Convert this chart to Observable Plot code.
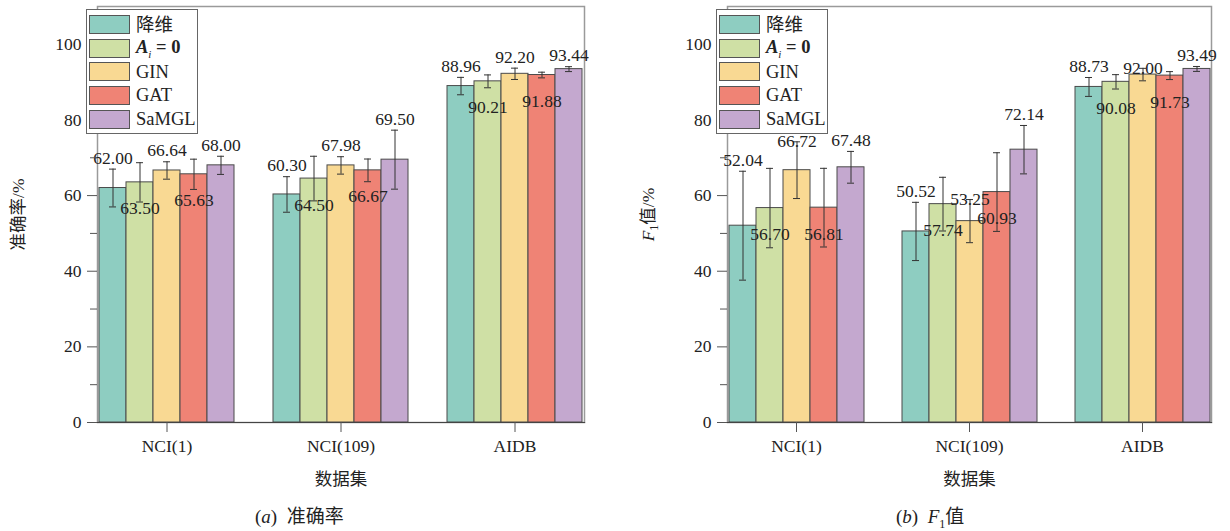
<!DOCTYPE html>
<html><head><meta charset="utf-8">
<script src="https://cdn.jsdelivr.net/npm/d3@7"></script>
<script src="https://cdn.jsdelivr.net/npm/@observablehq/plot@0.6"></script>
<style>
body{margin:0;background:#fff;font-family:"Liberation Serif","Noto Sans CJK SC",serif;color:#222;}
#wrap{display:flex;width:1230px;height:531px;overflow:hidden;}
.panel{position:relative;width:615px;}
.legend{position:absolute;top:9px;width:112px;border:1px solid #666;background:#fff;padding:3px 0 2px 2px;box-sizing:border-box;}
.row{display:flex;align-items:center;height:23.6px;}
.sw{width:41px;height:19px;border:1px solid #555;box-sizing:border-box;margin-right:6px;}
.lt{font-size:18.5px;line-height:1;}
.cap{position:absolute;top:503px;font-size:19px;line-height:28px;white-space:nowrap;}
svg text{font-family:"Liberation Serif","Noto Sans CJK SC",serif;}
</style></head>
<body>
<div id="wrap"><div class="panel" id="pa"></div><div class="panel" id="pb"></div></div>
<script>
const categories = ["NCI(1)", "NCI(109)", "AIDB"];
const series = ["降维", "A_i = 0", "GIN", "GAT", "SaMGL"];
const colors = ["#8ECDC1", "#CFE0A5", "#F9D993", "#EF8375", "#C4A8CF"];
const yTicks = [0, 20, 40, 60, 80, 100];
const yMinorTicks = [10, 30, 50, 70, 90];

// 准确率 (accuracy) values and error bars, rows = categories, cols = series
const accValues = [
  [62.00, 63.50, 66.64, 65.63, 68.00],
  [60.30, 64.50, 67.98, 66.67, 69.50],
  [88.96, 90.21, 92.20, 91.88, 93.44]
];
const accErrors = [
  [5.0, 5.2, 2.3, 4.0, 2.4],
  [4.7, 5.9, 2.3, 3.0, 7.8],
  [2.3, 1.7, 1.5, 0.75, 0.65]
];
// F1 values and error bars
const f1Values = [
  [52.04, 56.70, 66.72, 56.81, 67.48],
  [50.52, 57.74, 53.25, 60.93, 72.14],
  [88.73, 90.08, 92.00, 91.73, 93.49]
];
const f1Errors = [
  [14.4, 10.5, 7.5, 10.4, 4.2],
  [7.7, 7.1, 5.7, 10.4, 6.4],
  [2.5, 1.9, 1.65, 1.05, 0.65]
];

function rowsOf(values, errors) {
  const out = [];
  categories.forEach((c, ci) => series.forEach((s, si) => {
    out.push({cat: c, s, si, v: values[ci][si], e: errors[ci][si]});
  }));
  return out;
}

function legendLabel(name) {
  if (name.includes("_")) return '<b><i>A</i><sub style="font-size:11px;font-weight:normal;font-style:italic">i</sub> = 0</b>';
  return name;
}

// onCap: series whose value label sits centred on the error-bar cap
function panel(el, values, errors, yLabel, marginLeft, marginRight, caption, capLeft, onCap) {
  const rows = rowsOf(values, errors);
  const fmt = d3.format(".2f");
  const above = rows.filter(d => d.si % 2 === 0 && !onCap.includes(d.s));
  const cap = rows.filter(d => d.si % 2 === 0 && onCap.includes(d.s));
  const inside = rows.filter(d => d.si % 2 === 1);
  const chart = Plot.plot({
    width: 615, height: 500,
    marginTop: 6, marginBottom: 78, marginLeft, marginRight,
    style: {fontSize: "17.5px", fontFamily: '"Liberation Serif","Noto Sans CJK SC",serif', color: "#222", background: "#fff"},
    fx: {domain: categories, paddingInner: 0.2, paddingOuter: 0.1, axis: null},
    x: {domain: series, padding: 0, axis: null},
    y: {domain: [0, 110], axis: null},
    color: {domain: series, range: colors},
    marks: [
      Plot.frame({facet: "super", stroke: "#9a9a9a", strokeWidth: 1.5}),
      Plot.barY(rows, {fx: "cat", x: "s", y: "v", fill: "s", stroke: "#4a4a4a", strokeWidth: 1}),
      Plot.ruleX(rows, {fx: "cat", x: "s", y1: d => d.v - d.e, y2: d => d.v + d.e, stroke: "#333", strokeWidth: 1}),
      Plot.tickY(rows, {fx: "cat", x: "s", y: d => d.v + d.e, insetLeft: 10, insetRight: 10, stroke: "#333", strokeWidth: 1}),
      Plot.tickY(rows, {fx: "cat", x: "s", y: d => d.v - d.e, insetLeft: 10, insetRight: 10, stroke: "#333", strokeWidth: 1}),
      Plot.text(above, {fx: "cat", x: "s", y: d => d.v + d.e, text: d => fmt(d.v), dy: -11, fontSize: 17.5, fill: "#222"}),
      Plot.text(cap, {fx: "cat", x: "s", y: d => d.v + d.e, text: d => fmt(d.v), dy: 0, fontSize: 17.5, fill: "#222"}),
      Plot.text(inside, {fx: "cat", x: "s", y: "v", text: d => fmt(d.v), dy: 26.5, fontSize: 17.5, fill: "#222"}),
      Plot.frame({facet: "super", anchor: "bottom", stroke: "#444", strokeWidth: 1.2}),
      Plot.axisY({ticks: yTicks, tickSize: 10, tickPadding: 6, stroke: "#555", label: yLabel, labelAnchor: "center", labelOffset: 86, labelArrow: "none", fontSize: 17.5}),
      Plot.axisY({ticks: yMinorTicks, tickSize: 7, tickFormat: () => "", stroke: "#555", label: null}),
      Plot.axisFx({anchor: "bottom", tickSize: 10, tickPadding: 7, stroke: "#555", label: "数据集", labelAnchor: "center", labelOffset: 62, labelArrow: "none", fontSize: 17.5})
    ]
  });
  el.appendChild(chart);
  // legend
  const lg = document.createElement("div");
  lg.className = "legend";
  lg.style.left = (marginLeft + 7) + "px";
  lg.innerHTML = series.map((s, i) => `<div class="row"><div class="sw" style="background:${colors[i]}"></div><span class="lt">${legendLabel(s)}</span></div>`).join("");
  el.appendChild(lg);
  const cp = document.createElement("div");
  cp.className = "cap";
  cp.style.left = capLeft + "px";
  cp.innerHTML = caption;
  el.appendChild(cp);
  return chart;
}

panel(document.getElementById("pa"), accValues, accErrors, "准确率/%", 79, 13, '(<i>a</i>)&nbsp; 准确率', 255, []);
const cb = panel(document.getElementById("pb"), f1Values, f1Errors, "F1值/%", 94, 1, '(<i>b</i>)&nbsp; <i>F</i><sub style="font-size:12px">1</sub>值', 281, ["GIN"]);
cb.querySelectorAll("text").forEach(t => {
  if (t.textContent === "F1值/%") {
    t.innerHTML = '<tspan font-style="italic">F</tspan><tspan font-size="12" dy="4">1</tspan><tspan dy="-4">值/%</tspan>';
  }
});
</script>
</body></html>
